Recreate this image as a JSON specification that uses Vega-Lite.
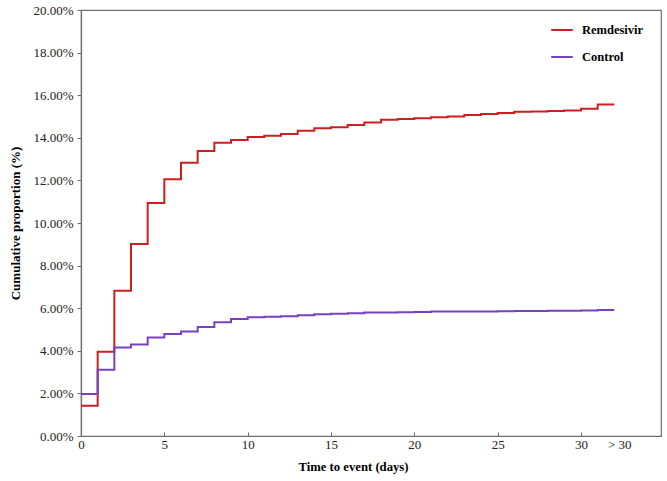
{
  "$schema": "https://vega.github.io/schema/vega-lite/v6.json",
  "autosize": {"type": "none"},
  "width": 580,
  "height": 426,
  "padding": {"left": 81, "top": 10, "right": 6, "bottom": 45},
  "background": "white",
  "config": {
    "view": {"stroke": "#6e6e6e", "strokeWidth": 1.2},
    "font": "Liberation Serif"
  },
  "data": {
    "values": [
      {"day": 0, "group": "Remdesivir", "p": 0.0142},
      {"day": 1, "group": "Remdesivir", "p": 0.0396},
      {"day": 2, "group": "Remdesivir", "p": 0.0682},
      {"day": 3, "group": "Remdesivir", "p": 0.0901},
      {"day": 4, "group": "Remdesivir", "p": 0.1094},
      {"day": 5, "group": "Remdesivir", "p": 0.1205},
      {"day": 6, "group": "Remdesivir", "p": 0.1283},
      {"day": 7, "group": "Remdesivir", "p": 0.1338},
      {"day": 8, "group": "Remdesivir", "p": 0.1377},
      {"day": 9, "group": "Remdesivir", "p": 0.1390},
      {"day": 10, "group": "Remdesivir", "p": 0.1404},
      {"day": 11, "group": "Remdesivir", "p": 0.1410},
      {"day": 12, "group": "Remdesivir", "p": 0.1418},
      {"day": 13, "group": "Remdesivir", "p": 0.1433},
      {"day": 14, "group": "Remdesivir", "p": 0.1445},
      {"day": 15, "group": "Remdesivir", "p": 0.1450},
      {"day": 16, "group": "Remdesivir", "p": 0.1460},
      {"day": 17, "group": "Remdesivir", "p": 0.1472},
      {"day": 18, "group": "Remdesivir", "p": 0.1485},
      {"day": 19, "group": "Remdesivir", "p": 0.1488},
      {"day": 20, "group": "Remdesivir", "p": 0.1492},
      {"day": 21, "group": "Remdesivir", "p": 0.1496},
      {"day": 22, "group": "Remdesivir", "p": 0.1500},
      {"day": 23, "group": "Remdesivir", "p": 0.1507},
      {"day": 24, "group": "Remdesivir", "p": 0.1512},
      {"day": 25, "group": "Remdesivir", "p": 0.1517},
      {"day": 26, "group": "Remdesivir", "p": 0.1522},
      {"day": 27, "group": "Remdesivir", "p": 0.1524},
      {"day": 28, "group": "Remdesivir", "p": 0.1526},
      {"day": 29, "group": "Remdesivir", "p": 0.1528},
      {"day": 30, "group": "Remdesivir", "p": 0.1536},
      {"day": 31, "group": "Remdesivir", "p": 0.1556},
      {"day": 32, "group": "Remdesivir", "p": 0.1556},
      {"day": 0, "group": "Control", "p": 0.0197},
      {"day": 1, "group": "Control", "p": 0.0311},
      {"day": 2, "group": "Control", "p": 0.0416},
      {"day": 3, "group": "Control", "p": 0.0430},
      {"day": 4, "group": "Control", "p": 0.0462},
      {"day": 5, "group": "Control", "p": 0.0479},
      {"day": 6, "group": "Control", "p": 0.0491},
      {"day": 7, "group": "Control", "p": 0.0512},
      {"day": 8, "group": "Control", "p": 0.0534},
      {"day": 9, "group": "Control", "p": 0.0549},
      {"day": 10, "group": "Control", "p": 0.0557},
      {"day": 11, "group": "Control", "p": 0.0560},
      {"day": 12, "group": "Control", "p": 0.0562},
      {"day": 13, "group": "Control", "p": 0.0567},
      {"day": 14, "group": "Control", "p": 0.0572},
      {"day": 15, "group": "Control", "p": 0.0574},
      {"day": 16, "group": "Control", "p": 0.0576},
      {"day": 17, "group": "Control", "p": 0.0580},
      {"day": 18, "group": "Control", "p": 0.0580},
      {"day": 19, "group": "Control", "p": 0.0581},
      {"day": 20, "group": "Control", "p": 0.0582},
      {"day": 21, "group": "Control", "p": 0.0584},
      {"day": 22, "group": "Control", "p": 0.0584},
      {"day": 23, "group": "Control", "p": 0.0585},
      {"day": 24, "group": "Control", "p": 0.0585},
      {"day": 25, "group": "Control", "p": 0.0586},
      {"day": 26, "group": "Control", "p": 0.0587},
      {"day": 27, "group": "Control", "p": 0.0587},
      {"day": 28, "group": "Control", "p": 0.0588},
      {"day": 29, "group": "Control", "p": 0.0588},
      {"day": 30, "group": "Control", "p": 0.0589},
      {"day": 31, "group": "Control", "p": 0.0591},
      {"day": 32, "group": "Control", "p": 0.0591}
    ]
  },
  "mark": {"type": "line", "interpolate": "step-after", "strokeWidth": 2},
  "encoding": {
    "x": {
      "field": "day",
      "type": "quantitative",
      "scale": {"domain": [0, 34.8], "nice": false, "zero": false},
      "axis": {
        "title": "Time to event (days)",
        "titleFont": "Liberation Serif",
        "titleFontSize": 12.7,
        "titleFontWeight": "bold",
        "titleColor": "black",
        "titlePadding": 9,
        "titleX": 272,
        "values": [0, 5, 10, 15, 20, 25, 30, 32.3],
        "labelExpr": "datum.value > 31 ? '> 30' : datum.label",
        "labelFont": "Liberation Serif",
        "labelFontSize": 13,
        "labelColor": "#222",
        "labelPadding": 6,
        "grid": false,
        "domainColor": "#6e6e6e",
        "domainWidth": 1.2,
        "tickColor": {"condition": {"test": "datum.value > 31 || datum.value == 0", "value": "transparent"}, "value": "#6e6e6e"},
        "tickSize": -4,
        "labelFlush": false
      }
    },
    "y": {
      "field": "p",
      "type": "quantitative",
      "scale": {"domain": [0, 0.2], "nice": false},
      "axis": {
        "title": "Cumulative proportion (%)",
        "titleFont": "Liberation Serif",
        "titleFontSize": 13,
        "titleFontWeight": "bold",
        "titleColor": "black",
        "titlePadding": 10,
        "values": [0, 0.02, 0.04, 0.06, 0.08, 0.1, 0.12, 0.14, 0.16, 0.18, 0.2],
        "format": ".2%",
        "labelFont": "Liberation Serif",
        "labelFontSize": 13,
        "labelColor": "#222",
        "labelPadding": 4,
        "grid": false,
        "domainColor": "#6e6e6e",
        "domainWidth": 1.2,
        "tickColor": "#6e6e6e",
        "tickSize": 4
      }
    },
    "color": {
      "field": "group",
      "type": "nominal",
      "scale": {"domain": ["Remdesivir", "Control"], "range": ["#cc1f1f", "#7a40bf"]},
      "legend": {
        "title": null,
        "orient": "none",
        "legendX": 469,
        "legendY": 8,
        "symbolType": "stroke",
        "symbolSize": 466,
        "symbolStrokeWidth": 2,
        "labelFont": "Liberation Serif",
        "labelFontSize": 12.5,
        "labelFontWeight": "bold",
        "labelColor": "black",
        "labelOffset": 8,
        "rowPadding": 8
      }
    }
  }
}
